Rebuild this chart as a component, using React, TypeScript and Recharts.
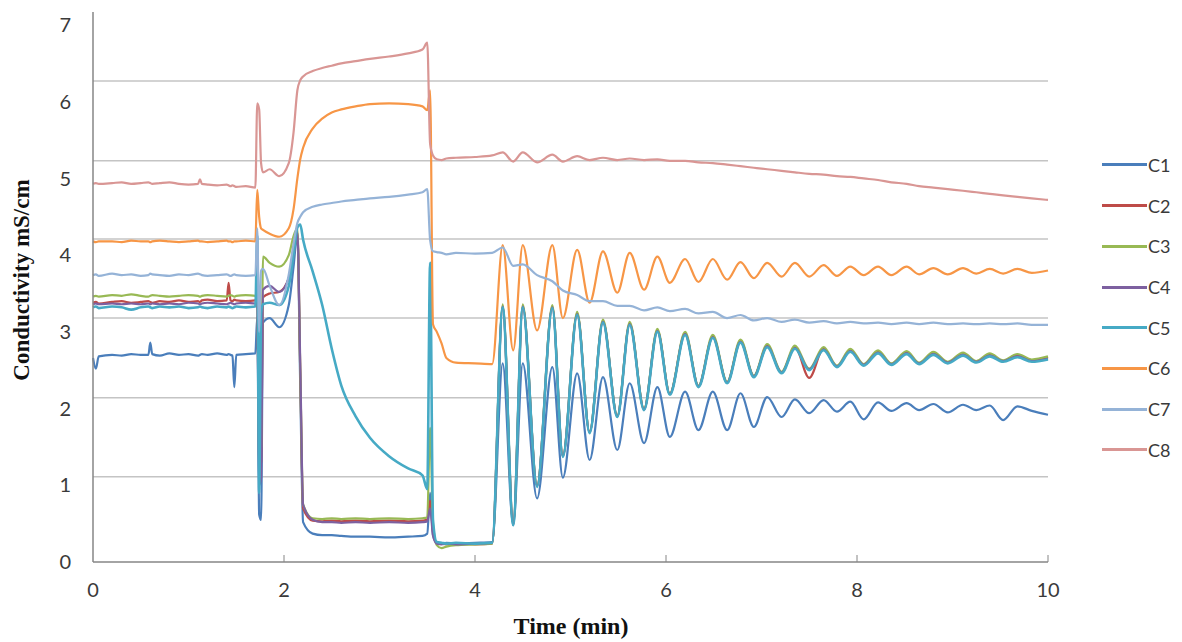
import { LineChart, Line, XAxis, YAxis, CartesianGrid, Legend } from 'recharts'

// 8 conductivity probes, C1..C8 (mS/cm) against time (min)
const TIME = [
  // 0 – 1.7 min
  0, 0.03, 0.06, 0.2, 0.3, 0.4, 0.5, 0.58, 0.6, 0.62, 0.7, 0.8, 0.9, 1.0, 1.1, 1.12, 1.14, 1.2, 1.3, 1.4, 1.42, 1.44, 1.46, 1.48, 1.5, 1.6, 1.7,
  // 1.72 – 4.18 min
  1.72, 1.74, 1.76, 1.78, 1.85, 1.95, 2.05, 2.1, 2.14, 2.17, 2.2, 2.3, 2.4, 2.5, 2.6, 2.75, 2.9, 3.1, 3.3, 3.45, 3.5, 3.53, 3.56, 3.6, 3.65, 3.7, 3.8, 4.0, 4.18,
  // 4.29 – 10 min (peaks / troughs)
  4.29, 4.4, 4.5, 4.65, 4.81, 4.92, 5.07, 5.2, 5.34, 5.49, 5.62, 5.77, 5.91, 6.04, 6.2, 6.34, 6.49, 6.64, 6.78, 6.92,
  7.06, 7.21, 7.35, 7.5, 7.65, 7.79, 7.93, 8.07, 8.22, 8.36, 8.52, 8.65, 8.8, 8.95, 9.11, 9.25, 9.39, 9.53, 9.68, 9.83, 10,
]

const C1 = [
  2.66, 2.52, 2.68, 2.7, 2.69, 2.71, 2.7, 2.7, 2.86, 2.71, 2.69, 2.72, 2.7, 2.71, 2.69, 2.7, 2.71, 2.7, 2.72, 2.7, 2.71, 2.7, 2.69, 2.28, 2.7, 2.71, 2.72,
  3.2, 0.62, 0.55, 3.12, 3.18, 3.06, 3.35, 3.85, 4.28, 2.3, 0.52, 0.37, 0.35, 0.35, 0.34, 0.33, 0.33, 0.32, 0.33, 0.34, 0.37, 0.9, 0.35, 0.25, 0.24, 0.25, 0.24, 0.25, 0.26,
  2.59, 0.48, 2.59, 0.83, 2.54, 1.1, 2.46, 1.33, 2.41, 1.46, 2.33, 1.55, 2.28, 1.63, 2.22, 1.72, 2.22, 1.72, 2.2, 1.76,
  2.15, 1.89, 2.12, 1.94, 2.11, 1.96, 2.09, 1.86, 2.08, 1.97, 2.07, 1.98, 2.06, 1.95, 2.05, 1.98, 2.04, 1.85, 2.03, 1.97, 1.92,
]
const C2 = [
  3.38, 3.39, 3.37, 3.39, 3.4, 3.38, 3.39, 3.4, 3.39, 3.38, 3.4, 3.39, 3.41, 3.39, 3.4, 3.39, 3.41, 3.42, 3.4, 3.41, 3.64, 3.41, 3.4, 3.42, 3.41, 3.4, 3.41,
  3.42, 1.24, 1.3, 3.45, 3.5, 3.52, 3.7, 4.0, 4.3, 2.5, 0.7, 0.54, 0.53, 0.54, 0.53, 0.54, 0.53, 0.54, 0.53, 0.54, 0.55, 0.8, 0.4, 0.25, 0.24, 0.23, 0.24, 0.23, 0.24,
  3.34, 0.49, 3.34, 0.99, 3.33, 1.38, 3.24, 1.69, 3.14, 1.9, 3.11, 1.99, 3.02, 2.19, 2.98, 2.29, 2.94, 2.34, 2.88, 2.42,
  2.82, 2.47, 2.8, 2.4, 2.78, 2.55, 2.76, 2.57, 2.74, 2.58, 2.73, 2.59, 2.72, 2.6, 2.71, 2.61, 2.7, 2.62, 2.7, 2.62, 2.67,
]
const C3 = [
  3.46, 3.47, 3.46, 3.48, 3.47, 3.49, 3.47, 3.46, 3.47, 3.48, 3.47, 3.46, 3.47, 3.48, 3.47, 3.46, 3.47, 3.48, 3.47, 3.46, 3.47, 3.48, 3.47, 3.46, 3.47, 3.48, 3.47,
  3.5, 1.42, 1.5, 3.98, 3.9, 3.85, 4.0, 4.25, 4.35, 2.5, 0.75, 0.57, 0.56, 0.57, 0.56, 0.57, 0.56, 0.57, 0.56, 0.57, 0.58, 1.75, 0.5, 0.22, 0.18, 0.2, 0.22, 0.23, 0.24,
  3.36, 0.5, 3.36, 1.0, 3.35, 1.39, 3.26, 1.7, 3.16, 1.91, 3.13, 2.0, 3.04, 2.2, 3.0, 2.3, 2.96, 2.35, 2.9, 2.43,
  2.84, 2.48, 2.82, 2.52, 2.8, 2.56, 2.78, 2.58, 2.76, 2.59, 2.75, 2.6, 2.74, 2.61, 2.73, 2.62, 2.72, 2.63, 2.71, 2.64, 2.68,
]
const C4 = [
  3.36, 3.37, 3.36, 3.37, 3.36, 3.37, 3.36, 3.37, 3.36, 3.37, 3.36, 3.37, 3.36, 3.38, 3.37, 3.36, 3.37, 3.38, 3.37, 3.36, 3.37, 3.38, 3.37, 3.36, 3.37, 3.38, 3.37,
  3.4, 1.0, 1.1, 3.55, 3.6, 3.52, 3.7, 4.0, 4.3, 2.6, 0.75, 0.55, 0.52, 0.52, 0.51, 0.52, 0.51, 0.52, 0.51, 0.52, 0.53, 0.7, 0.35, 0.24, 0.23, 0.24, 0.23, 0.24, 0.25,
  3.33, 0.49, 3.33, 0.99, 3.32, 1.38, 3.23, 1.69, 3.13, 1.9, 3.1, 1.99, 3.01, 2.19, 2.97, 2.29, 2.93, 2.34, 2.87, 2.42,
  2.81, 2.47, 2.79, 2.51, 2.77, 2.55, 2.75, 2.57, 2.73, 2.58, 2.72, 2.59, 2.71, 2.6, 2.7, 2.61, 2.69, 2.62, 2.68, 2.62, 2.65,
]
const C5 = [
  3.32, 3.33, 3.31, 3.33, 3.32, 3.29, 3.32, 3.33, 3.32, 3.31, 3.33, 3.32, 3.33, 3.31, 3.32, 3.33, 3.32, 3.31, 3.33, 3.32, 3.33, 3.32, 3.31, 3.32, 3.33, 3.32, 3.33,
  4.25, 0.9, 3.25, 3.36, 3.38, 3.35, 3.6, 4.0, 4.36, 4.4, 4.2, 3.79, 3.35, 2.78, 2.3, 1.9, 1.62, 1.38, 1.22, 1.13, 0.95, 3.9, 0.55, 0.26, 0.25, 0.24, 0.25, 0.24, 0.25,
  3.32, 0.48, 3.32, 0.98, 3.31, 1.37, 3.22, 1.68, 3.12, 1.89, 3.09, 1.98, 3.0, 2.18, 2.96, 2.28, 2.92, 2.33, 2.86, 2.41,
  2.8, 2.46, 2.78, 2.5, 2.76, 2.54, 2.74, 2.56, 2.72, 2.57, 2.71, 2.58, 2.7, 2.59, 2.69, 2.6, 2.68, 2.61, 2.67, 2.61, 2.64,
]
const C6 = [
  4.18, 4.17, 4.18, 4.18, 4.17, 4.19, 4.18, 4.18, 4.17, 4.18, 4.19, 4.18, 4.17, 4.18, 4.19, 4.18, 4.18, 4.17, 4.18, 4.19, 4.18, 4.18, 4.17, 4.18, 4.18, 4.19, 4.18,
  4.85, 4.5, 4.35, 4.33, 4.28, 4.24, 4.35, 4.6, 5.0, 5.25, 5.4, 5.65, 5.78, 5.86, 5.9, 5.94, 5.97, 5.98, 5.97, 5.94, 5.89, 6.15, 3.1, 3.0, 2.85, 2.66, 2.6, 2.59, 2.58,
  4.13, 2.76, 4.13, 3.02, 4.13, 3.18, 4.07, 3.38, 4.05, 3.51, 4.03, 3.55, 3.98, 3.64, 3.95, 3.65, 3.95, 3.68, 3.91, 3.7,
  3.9, 3.72, 3.9, 3.72, 3.87, 3.73, 3.85, 3.74, 3.85, 3.74, 3.85, 3.75, 3.83, 3.75, 3.83, 3.76, 3.82, 3.76, 3.82, 3.77, 3.8,
]
const C7 = [
  3.74, 3.75, 3.73, 3.76, 3.74, 3.75, 3.73, 3.74, 3.76, 3.75, 3.74, 3.73, 3.75, 3.74, 3.76, 3.75, 3.74, 3.73, 3.74, 3.75, 3.74, 3.73, 3.74, 3.75, 3.74, 3.73, 3.74,
  4.35, 3.0, 3.8, 3.82, 3.6, 3.35, 3.75, 4.15, 4.42, 4.5, 4.56, 4.63, 4.66, 4.68, 4.7, 4.72, 4.74, 4.76, 4.79, 4.82, 4.86, 4.2, 4.05, 4.04, 4.03, 4.01, 4.03, 4.02, 4.03,
  4.1, 3.86, 3.88, 3.74, 3.66, 3.54, 3.48, 3.4, 3.4, 3.34, 3.34, 3.28, 3.32, 3.27, 3.3, 3.24, 3.26, 3.18, 3.22, 3.15,
  3.18, 3.13, 3.16, 3.12, 3.14, 3.11, 3.13, 3.11, 3.12, 3.1, 3.12, 3.1, 3.12, 3.1, 3.11, 3.1, 3.11, 3.1, 3.11, 3.09, 3.09,
]
const C8 = [
  4.93, 4.94, 4.93, 4.94, 4.95, 4.93, 4.94, 4.95, 4.94, 4.93, 4.94, 4.95, 4.93, 4.92, 4.93, 4.99, 4.93, 4.92, 4.91, 4.92, 4.91, 4.9, 4.91, 4.9, 4.89, 4.9, 4.88,
  5.98, 5.9, 5.2, 5.08, 5.12, 5.03, 5.2, 5.6, 6.15, 6.28, 6.33, 6.4, 6.44, 6.47, 6.5, 6.53, 6.56, 6.59, 6.63, 6.68, 6.77, 5.45, 5.3, 5.25, 5.24, 5.26, 5.27, 5.28, 5.3,
  5.34, 5.22, 5.34, 5.21, 5.31, 5.22, 5.29, 5.24, 5.27, 5.24, 5.26, 5.24, 5.25, 5.23, 5.23, 5.21, 5.2, 5.18, 5.16, 5.14,
  5.12, 5.1, 5.08, 5.06, 5.05, 5.03, 5.02, 5.0, 4.98, 4.95, 4.93, 4.9, 4.88, 4.86, 4.84, 4.82, 4.8, 4.78, 4.76, 4.74, 4.72,
]

const SERIES = [
  { key: 'C1', color: '#4a7ebb', values: C1 },
  { key: 'C2', color: '#be4b48', values: C2 },
  { key: 'C3', color: '#98b954', values: C3 },
  { key: 'C4', color: '#7d60a0', values: C4 },
  { key: 'C5', color: '#46aac5', values: C5 },
  { key: 'C6', color: '#f79646', values: C6 },
  { key: 'C7', color: '#95b3d7', values: C7 },
  { key: 'C8', color: '#d99694', values: C8 },
]

const X_TICKS = [0, 2, 4, 6, 8, 10]
const Y_TICKS = [0, 1, 2, 3, 4, 5, 6, 7]
// horizontal gridlines sit a little above the labelled values in the original
const GRID_VALUES = [1.11, 2.14, 3.18, 4.21, 5.23, 6.27]

const rows = TIME.map((t, i) => {
  const row: Record<string, number> = { t }
  SERIES.forEach((s) => { row[s.key] = s.values[i] })
  return row
})

const TICK_FONT = 'Lato, "Open Sans", sans-serif'
const TITLE_FONT = '"Liberation Serif", serif'
const AXIS_COLOR = '#868686'

function XTick({ x, y, payload }: any) {
  return (
    <g>
      {payload.value > 0 && <line x1={x} x2={x} y1={y - 7} y2={y} stroke={AXIS_COLOR} strokeWidth={1} />}
      <text x={x} y={y + 35} textAnchor="middle" fill="#3a3a3a" fontSize={20} fontFamily={TICK_FONT}>
        {payload.value}
      </text>
    </g>
  )
}

function LegendBox() {
  return (
    <div>
      {SERIES.map((s) => (
        <div key={s.key} style={{ height: 40.7, display: 'flex', alignItems: 'center' }}>
          <span style={{ width: 45, height: 3, background: s.color, display: 'inline-block' }} />
          <span style={{ fontFamily: TICK_FONT, fontSize: 18, color: '#3a3a3a', marginLeft: 1, lineHeight: 1 }}>{s.key}</span>
        </div>
      ))}
    </div>
  )
}

export default function App() {
  return (
    <div style={{ position: 'absolute', left: 0, top: 0, width: 1182, height: 642, background: '#fff' }}>
      <LineChart width={1182} height={642} data={rows} margin={{ top: 12, right: 134, bottom: 30, left: 33 }}>
        <CartesianGrid vertical={false} horizontalValues={GRID_VALUES} stroke="#c4c4c4" strokeWidth={1.5} />
        <XAxis
          dataKey="t"
          type="number"
          domain={[0, 10]}
          ticks={X_TICKS}
          height={50}
          tickSize={0}
          tickMargin={0}
          tickLine={false}
          tick={<XTick />}
          axisLine={{ stroke: AXIS_COLOR, strokeWidth: 1.5 }}
        />
        <YAxis
          type="number"
          domain={[0, 7.17]}
          ticks={Y_TICKS}
          width={60}
          tickSize={0}
          tickMargin={22}
          tickLine={false}
          tick={{ fill: '#3a3a3a', fontSize: 20, fontFamily: TICK_FONT }}
          axisLine={{ stroke: AXIS_COLOR, strokeWidth: 1.5 }}
        />
        <Legend
          layout="vertical"
          align="center"
          verticalAlign="middle"
          wrapperStyle={{ position: 'absolute', left: 1102, top: 144.6, width: 80 }}
          content={() => <LegendBox />}
        />
        {SERIES.map((s) => (
          <Line
            key={s.key}
            type="monotone"
            dataKey={s.key}
            stroke={s.color}
            strokeWidth={s.key === 'C5' ? 2.6 : 2.2}
            dot={false}
            activeDot={false}
            isAnimationActive={false}
          />
        ))}
      </LineChart>
      <div
        style={{
          position: 'absolute', left: 22, top: 280, transform: 'translate(-50%, -50%) rotate(-90deg)',
          whiteSpace: 'nowrap', fontFamily: TITLE_FONT, fontWeight: 'bold', fontSize: 23, color: '#111',
        }}
      >
        Conductivity mS/cm
      </div>
      <div
        style={{
          position: 'absolute', left: 571, top: 626, transform: 'translate(-50%, -50%)',
          whiteSpace: 'nowrap', fontFamily: TITLE_FONT, fontWeight: 'bold', fontSize: 24, color: '#111',
        }}
      >
        Time (min)
      </div>
    </div>
  )
}
